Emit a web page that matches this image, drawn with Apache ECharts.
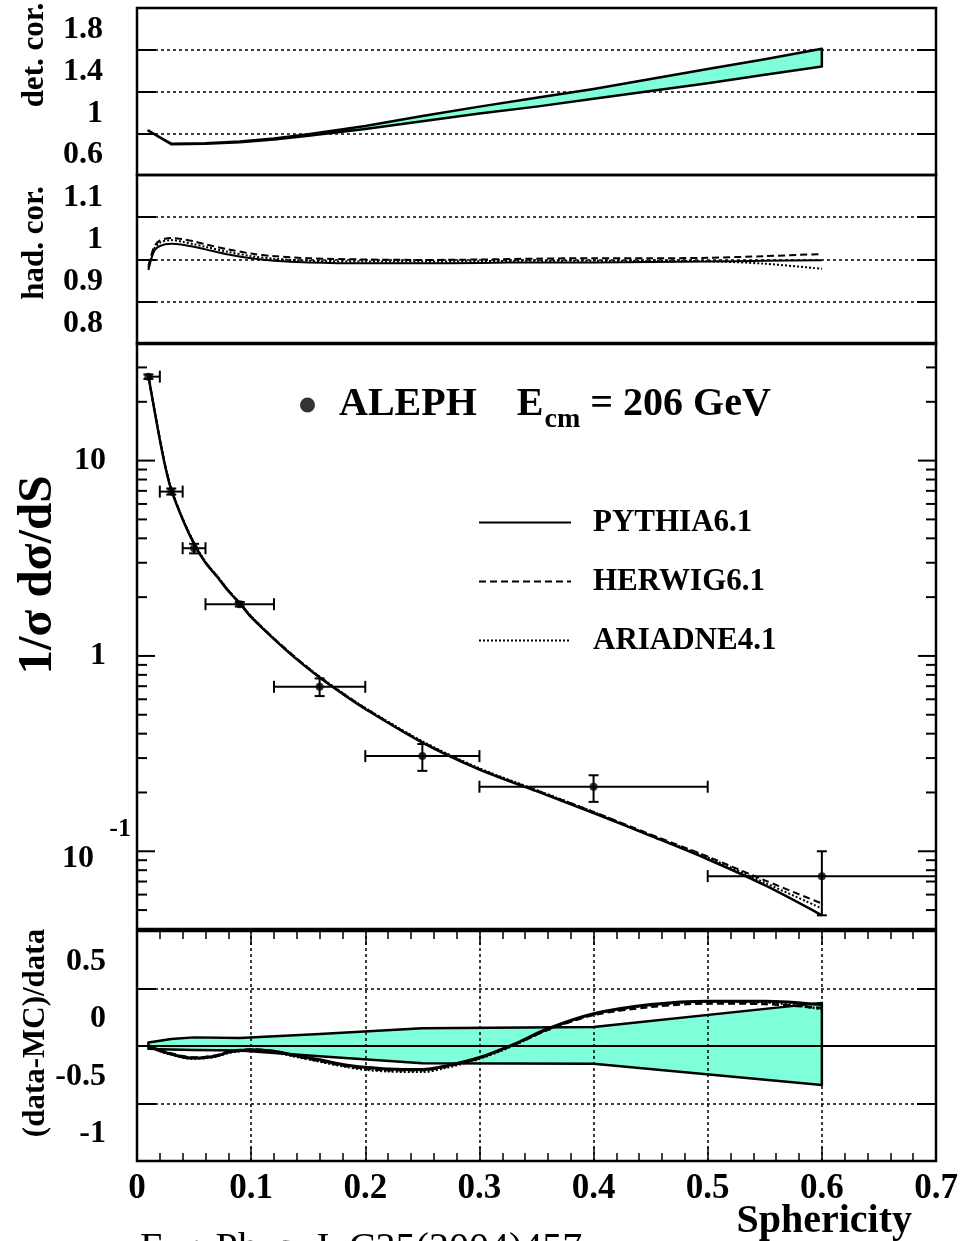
<!DOCTYPE html>
<html><head><meta charset="utf-8">
<script src="https://cdn.jsdelivr.net/npm/echarts@6/dist/echarts.min.js"></script>
<style>html,body{margin:0;padding:0;background:#fff}#c{width:974px;height:1241px}</style>
</head><body><div id="c"></div>
<script>
// ---------------- DATA ----------------
// Panel 1: detector correction band
const detX     = [0.01, 0.02, 0.03, 0.06, 0.09, 0.12, 0.15, 0.20, 0.25, 0.30, 0.35, 0.40, 0.45, 0.50, 0.55, 0.60];
const detUpper = [1.025, 0.96, 0.90, 0.905, 0.92, 0.95, 0.99, 1.07, 1.165, 1.255, 1.34, 1.425, 1.52, 1.615, 1.71, 1.81];
const detLower = [1.025, 0.96, 0.895, 0.90, 0.913, 0.94, 0.975, 1.04, 1.115, 1.19, 1.255, 1.33, 1.405, 1.48, 1.56, 1.64];
const detTicks  = [0.6, 1.0, 1.4, 1.8, 2.2];
const detLabels = [0.6, 1.0, 1.4, 1.8];

// Panel 2: hadronisation corrections
const hadX       = [0.01, 0.015, 0.02, 0.03, 0.04, 0.05, 0.06, 0.08, 0.10, 0.12, 0.15, 0.20, 0.25, 0.30, 0.35, 0.40, 0.45, 0.50, 0.55, 0.60];
const hadPythia  = [0.975, 1.02, 1.032, 1.037, 1.035, 1.03, 1.024, 1.012, 1.003, 0.997, 0.993, 0.991, 0.991, 0.992, 0.993, 0.993, 0.994, 0.995, 0.997, 0.998];
const hadHerwig  = [0.985, 1.03, 1.045, 1.051, 1.048, 1.043, 1.036, 1.024, 1.014, 1.008, 1.003, 1.0, 0.999, 1.0, 1.002, 1.003, 1.003, 1.004, 1.008, 1.013];
const hadAriadne = [0.98, 1.025, 1.04, 1.046, 1.042, 1.036, 1.03, 1.018, 1.008, 1.002, 0.997, 0.995, 0.995, 0.996, 0.997, 0.997, 0.997, 0.996, 0.99, 0.978];

// Panel 3: ALEPH data, 206 GeV
const dataX   = [0.01, 0.03, 0.05, 0.09, 0.16, 0.25, 0.40, 0.60];
const dataY   = [26.9, 6.94, 3.56, 1.84, 0.695, 0.307, 0.214, 0.0746];
const dataYLo = [26.2, 6.7, 3.35, 1.79, 0.623, 0.258, 0.179, 0.047];
const dataYHi = [27.6, 7.2, 3.75, 1.89, 0.767, 0.354, 0.245, 0.100];
const dataXLo = [0.01, 0.02, 0.04, 0.06, 0.12, 0.20, 0.30, 0.50];
const dataXHi = [0.02, 0.04, 0.06, 0.12, 0.20, 0.30, 0.50, 0.70];

// Panel 3: MC predictions
const mcX       = [0.01, 0.015, 0.02, 0.025, 0.03, 0.04, 0.05, 0.06, 0.07, 0.08, 0.09, 0.10, 0.12, 0.14, 0.16, 0.18, 0.20, 0.25, 0.30, 0.35, 0.40, 0.45, 0.50, 0.55, 0.60];
const mcPythia  = [27, 18.5, 12.8, 9.2, 7.1, 5.0, 3.75, 3.0, 2.55, 2.15, 1.86, 1.58, 1.22, 0.96, 0.775, 0.64, 0.535, 0.36, 0.262, 0.203, 0.157, 0.12, 0.091, 0.067, 0.047];
const mcHerwig  = [27, 18.6, 12.9, 9.3, 7.15, 5.05, 3.78, 3.02, 2.57, 2.17, 1.87, 1.59, 1.23, 0.97, 0.78, 0.645, 0.54, 0.363, 0.264, 0.205, 0.159, 0.122, 0.094, 0.071, 0.054];
const mcAriadne = [27, 18.6, 12.9, 9.3, 7.15, 5.05, 3.8, 3.03, 2.58, 2.17, 1.87, 1.6, 1.23, 0.97, 0.785, 0.648, 0.542, 0.366, 0.266, 0.206, 0.159, 0.121, 0.093, 0.069, 0.051];
const logMajorTicks = [0.1, 1, 10];
const logMinorTicks = [0.05, 0.06, 0.07, 0.08, 0.09, 0.2, 0.3, 0.4, 0.5, 0.6, 0.7, 0.8, 0.9, 2, 3, 4, 5, 6, 7, 8, 9, 20, 30];

// Panel 4: (data-MC)/data
const ratX       = [0.01, 0.02, 0.03, 0.04, 0.05, 0.06, 0.07, 0.08, 0.09, 0.10, 0.12, 0.14, 0.16, 0.18, 0.20, 0.22, 0.25, 0.27, 0.30, 0.33, 0.36, 0.40, 0.45, 0.50, 0.55, 0.60];
const ratPythia  = [0.0, -0.04, -0.07, -0.095, -0.105, -0.1, -0.085, -0.055, -0.04, -0.032, -0.045, -0.085, -0.12, -0.16, -0.185, -0.2, -0.205, -0.175, -0.1, 0.015, 0.15, 0.28, 0.36, 0.39, 0.39, 0.36];
const ratHerwig  = [0.0, -0.035, -0.065, -0.09, -0.1, -0.095, -0.08, -0.05, -0.035, -0.03, -0.045, -0.09, -0.13, -0.17, -0.195, -0.21, -0.21, -0.18, -0.105, 0.01, 0.14, 0.27, 0.34, 0.37, 0.365, 0.33];
const ratAriadne = [0.0, -0.045, -0.075, -0.1, -0.11, -0.105, -0.09, -0.06, -0.045, -0.04, -0.055, -0.095, -0.135, -0.175, -0.205, -0.22, -0.225, -0.19, -0.11, 0.005, 0.145, 0.275, 0.355, 0.385, 0.38, 0.32];
const bandX     = [0.01, 0.03, 0.05, 0.09, 0.16, 0.25, 0.40, 0.60];
const bandUpper = [0.03, 0.06, 0.075, 0.07, 0.105, 0.155, 0.165, 0.375];
const bandLower = [-0.025, -0.03, -0.035, -0.04, -0.09, -0.15, -0.155, -0.34];
const ratGridX = [0.1, 0.2, 0.3, 0.4, 0.5, 0.6];
const ratGridY = [0.5, 0, -0.5];

// ---------------- STYLE ----------------
const F = '"Liberation Serif","Times New Roman",serif';
const CYAN = '#7fffd9';
const BLACK = '#000';
const DOT = [3, 3];
const DASH = [7, 4];
const FINE = [2, 2];

const chart = echarts.init(document.getElementById('c'), null, {renderer: 'canvas'});

const pairs = (xs, ys) => xs.map((x, i) => [x, ys[i]]);
const fmtNum = v => String(Math.round(v * 100) / 100);

function bandRenderer(xs, up, lo) {
  return function (params, api) {
    const pts = [];
    for (let i = 0; i < xs.length; i++) pts.push(api.coord([xs[i], up[i]]));
    for (let i = xs.length - 1; i >= 0; i--) pts.push(api.coord([xs[i], lo[i]]));
    return {type: 'polygon', shape: {points: pts},
      style: {fill: CYAN, stroke: BLACK, lineWidth: 2.5, lineJoin: 'round'}};
  };
}
function seg(x1, y1, x2, y2, w) {
  return {type: 'line', shape: {x1, y1, x2, y2}, style: {stroke: BLACK, lineWidth: w || 2}};
}

const yLabel = (margin, padB, extra) => Object.assign({
  fontFamily: F, fontWeight: 'bold', fontSize: 32, color: BLACK,
  margin: margin, verticalAlign: 'bottom', padding: [0, 0, padB, 0]
}, extra || {});
const yTick = {show: true, inside: true, length: 19, lineStyle: {color: BLACK, width: 2}};
const noLine = {show: false, onZero: false};
const dotted = {show: true, lineStyle: {color: BLACK, type: DOT, width: 1.5}};
const hiddenX = gi => ({type: 'value', gridIndex: gi, min: 0, max: 0.7, show: false, axisLine: noLine});
const xTick = {show: true, inside: true, length: 14, lineStyle: {color: BLACK, width: 1.5}};
const xMinor = {show: true, splitNumber: 5, length: 8, lineStyle: {color: BLACK, width: 1.5}};

const lineSeries = (name, xi, yi, xs, ys, type, width, z) => ({
  name, type: 'line', xAxisIndex: xi, yAxisIndex: yi, data: pairs(xs, ys),
  symbol: 'none', smooth: 0.3, z: z || 3, silent: true,
  itemStyle: {color: BLACK},
  lineStyle: {color: BLACK, width: width, type: type}
});

const option = {
  animation: false,
  backgroundColor: '#fff',
  grid: [
    {left: 137, top: 8, width: 799, height: 167, show: true, borderColor: BLACK, borderWidth: 2.5, backgroundColor: 'transparent'},
    {left: 137, top: 175, width: 799, height: 169, show: true, borderColor: BLACK, borderWidth: 2.5, backgroundColor: 'transparent'},
    {left: 137, top: 343, width: 799, height: 586, show: true, borderColor: BLACK, borderWidth: 2.5, backgroundColor: 'transparent'},
    {left: 137, top: 931, width: 799, height: 230, show: true, borderColor: BLACK, borderWidth: 2.5, backgroundColor: 'transparent'}
  ],
  xAxis: [
    hiddenX(0), hiddenX(1), hiddenX(2),
    {type: 'value', gridIndex: 3, position: 'bottom', min: 0, max: 0.7, interval: 0.1,
      axisLine: noLine, axisTick: xTick, minorTick: xMinor, splitLine: {show: false},
      axisLabel: {fontFamily: F, fontWeight: 'bold', fontSize: 35, color: BLACK, margin: 10,
        formatter: v => v === 0 ? '0' : v.toFixed(1)}},
    {type: 'value', gridIndex: 3, position: 'top', min: 0, max: 0.7, interval: 0.1,
      axisLine: noLine, axisTick: xTick, minorTick: xMinor, splitLine: {show: false},
      axisLabel: {show: false}}
  ],
  yAxis: [
    {type: 'value', gridIndex: 0, position: 'left', min: 0.6, max: 2.2, axisLine: noLine,
      axisTick: Object.assign({customValues: detTicks}, yTick),
      axisLabel: yLabel(34, 4, {customValues: detLabels, formatter: fmtNum}),
      splitLine: dotted},
    {type: 'value', gridIndex: 0, position: 'right', min: 0.6, max: 2.2, axisLine: noLine,
      axisTick: Object.assign({customValues: detTicks}, yTick), axisLabel: {show: false}, splitLine: {show: false}},
    {type: 'value', gridIndex: 1, position: 'left', min: 0.8, max: 1.2, interval: 0.1, axisLine: noLine,
      axisTick: yTick, axisLabel: yLabel(34, 4, {formatter: v => v > 1.15 ? '' : fmtNum(v)}),
      splitLine: dotted},
    {type: 'value', gridIndex: 1, position: 'right', min: 0.8, max: 1.2, interval: 0.1, axisLine: noLine,
      axisTick: yTick, axisLabel: {show: false}, splitLine: {show: false}},
    {type: 'log', logBase: 10, gridIndex: 2, position: 'left', min: 0.04, max: 40, axisLine: noLine,
      axisTick: {show: false}, splitLine: {show: false},
      axisLabel: {margin: 6, color: BLACK,
        formatter: v => {
          const l = Math.log10(v), e = Math.round(l);
          if (Math.abs(l - e) > 1e-6) return '';
          if (e === 1) return '{b|10}{sp| }';
          if (e === 0) return '{b|1}{sp| }';
          if (e === -1) return '{s|-1}\n{bb|10}{sp2| }';
          return '';
        },
        rich: {
          b: {fontFamily: F, fontWeight: 'bold', fontSize: 32, color: BLACK, lineHeight: 32},
          sp: {width: 25, fontSize: 10},
          s: {fontFamily: F, fontWeight: 'bold', fontSize: 26, color: BLACK, lineHeight: 26},
          bb: {fontFamily: F, fontWeight: 'bold', fontSize: 32, color: BLACK, padding: [0, 0, 12, 0]},
          sp2: {width: 37, fontSize: 10}
        }}},
    {type: 'value', gridIndex: 3, position: 'left', min: -1, max: 1, interval: 0.5, axisLine: noLine,
      axisTick: yTick, axisLabel: yLabel(31, 11, {formatter: v => v > 0.9 ? '' : fmtNum(v)}),
      splitLine: {show: false}},
    {type: 'value', gridIndex: 3, position: 'right', min: -1, max: 1, interval: 0.5, axisLine: noLine,
      axisTick: yTick, axisLabel: {show: false}, splitLine: {show: false}}
  ],
  legend: [
    {data: ['ALEPH'], left: 300, top: 385, padding: 0, icon: 'circle', itemWidth: 15, itemHeight: 15, selectedMode: false,
      formatter: () => '{a|ALEPH    E}{sub|cm}{a| = 206 GeV}',
      textStyle: {padding: [0, 0, 0, 19],
        rich: {
          a: {fontFamily: F, fontWeight: 'bold', fontSize: 40, color: BLACK, lineHeight: 58, verticalAlign: 'middle'},
          sub: {fontFamily: F, fontWeight: 'bold', fontSize: 28, color: BLACK, padding: [30, 0, 0, 1], verticalAlign: 'top'}
        }}},
    {data: ['PYTHIA6.1', 'HERWIG6.1', 'ARIADNE4.1'], orient: 'vertical', left: 478, top: 507, padding: 0,
      itemWidth: 92, itemHeight: 14, itemGap: 28, selectedMode: false,
      itemStyle: {color: 'transparent', borderColor: 'transparent', borderWidth: 0, opacity: 0},
      textStyle: {fontFamily: F, fontWeight: 'bold', fontSize: 31, color: BLACK, lineHeight: 31, padding: [0, 0, 0, 17]}}
  ],
  graphic: [
    {type: 'text', x: 35, y: 55, rotation: Math.PI / 2, style: {text: 'det. cor.', font: 'bold 31px ' + F, align: 'center', verticalAlign: 'middle', fill: BLACK}},
    {type: 'text', x: 35, y: 243, rotation: Math.PI / 2, style: {text: 'had. cor.', font: 'bold 31px ' + F, align: 'center', verticalAlign: 'middle', fill: BLACK}},
    {type: 'text', x: 38, y: 575, rotation: Math.PI / 2, style: {text: '1/σ dσ/dS', font: 'bold 49px ' + F, align: 'center', verticalAlign: 'middle', fill: BLACK}},
    {type: 'text', x: 36, y: 1033, rotation: Math.PI / 2, style: {text: '(data-MC)/data', font: 'bold 31px ' + F, align: 'center', verticalAlign: 'middle', fill: BLACK}},
    {type: 'text', x: 912, y: 1202, style: {text: 'Sphericity', font: 'bold 40px ' + F, align: 'right', verticalAlign: 'top', fill: BLACK}},
    {type: 'text', x: 140, y: 1229, style: {text: 'Eur. Phys. J. C35(2004)457', font: '40px ' + F, align: 'left', verticalAlign: 'top', fill: BLACK}}
  ],
  series: [
    // main panel MC curves (first, so legend takes their style)
    lineSeries('PYTHIA6.1', 2, 4, mcX, mcPythia, 'solid', 2.5, 3),
    lineSeries('HERWIG6.1', 2, 4, mcX, mcHerwig, DASH, 2, 3),
    lineSeries('ARIADNE4.1', 2, 4, mcX, mcAriadne, FINE, 2, 3),
    // data points
    {name: 'ALEPH', type: 'scatter', xAxisIndex: 2, yAxisIndex: 4, data: pairs(dataX, dataY),
      symbol: 'circle', symbolSize: 8, itemStyle: {color: BLACK}, z: 6, silent: true},
    {name: 'ALEPH errors', type: 'custom', xAxisIndex: 2, yAxisIndex: 4, z: 5, silent: true,
      data: dataX.map((x, i) => [x, dataY[i], dataXLo[i], dataXHi[i], dataYLo[i], dataYHi[i]]),
      encode: {x: 0, y: 1},
      renderItem: (params, api) => {
        const x = api.value(0), y = api.value(1);
        const c = api.coord([x, y]);
        const pl = api.coord([api.value(2), y]), ph = api.coord([api.value(3), y]);
        const qlo = api.coord([x, api.value(4)]), qhi = api.coord([x, api.value(5)]);
        const ch = [seg(pl[0], c[1], ph[0], c[1])];
        if (ph[0] - c[0] > 1) ch.push(seg(ph[0], c[1] - 6, ph[0], c[1] + 6));
        if (c[0] - pl[0] > 1) ch.push(seg(pl[0], c[1] - 6, pl[0], c[1] + 6));
        ch.push(seg(c[0], qhi[1], c[0], qlo[1]));
        ch.push(seg(c[0] - 5, qhi[1], c[0] + 5, qhi[1]));
        ch.push(seg(c[0] - 5, qlo[1], c[0] + 5, qlo[1]));
        return {type: 'group', children: ch};
      }},
    // log-axis ticks (decades and 2..9 subdivisions) on both sides
    {name: 'log ticks', type: 'custom', xAxisIndex: 2, yAxisIndex: 4, z: 4, silent: true,
      data: logMajorTicks.map(v => [0, v, 1]).concat(logMinorTicks.map(v => [0, v, 0])),
      encode: {x: 0, y: 1},
      renderItem: (params, api) => {
        const cs = params.coordSys;
        const y = api.coord([0, api.value(1)])[1];
        const len = api.value(2) ? 18 : 10;
        return {type: 'group', children: [
          seg(cs.x, y, cs.x + len, y, 2),
          seg(cs.x + cs.width - len, y, cs.x + cs.width, y, 2)
        ]};
      }},
    // detector correction band
    {name: 'det. cor.', type: 'custom', xAxisIndex: 0, yAxisIndex: 0, z: 3, silent: true,
      data: [[detX[0], detUpper[0]]], renderItem: bandRenderer(detX, detUpper, detLower)},
    // hadronisation corrections
    lineSeries('PYTHIA6.1 had', 1, 2, hadX, hadPythia, 'solid', 2, 3),
    lineSeries('HERWIG6.1 had', 1, 2, hadX, hadHerwig, DASH, 2, 3),
    lineSeries('ARIADNE4.1 had', 1, 2, hadX, hadAriadne, FINE, 2, 3),
    // ratio panel: solid zero line under band
    {name: 'zero', type: 'line', xAxisIndex: 3, yAxisIndex: 5, data: [], z: 1, silent: true,
      markLine: {silent: true, symbol: 'none', label: {show: false}, animation: false,
        lineStyle: {color: BLACK, type: 'solid', width: 2}, data: [{yAxis: 0}]}},
    {name: 'uncertainty', type: 'custom', xAxisIndex: 3, yAxisIndex: 5, z: 2, silent: true,
      data: [[bandX[0], bandUpper[0]]], renderItem: bandRenderer(bandX, bandUpper, bandLower)},
    {name: 'grid', type: 'line', xAxisIndex: 3, yAxisIndex: 5, data: [], z: 3, silent: true,
      markLine: {silent: true, symbol: 'none', label: {show: false}, animation: false,
        lineStyle: {color: BLACK, type: DOT, width: 1.5},
        data: ratGridX.map(v => ({xAxis: v})).concat(ratGridY.map(v => ({yAxis: v})))}},
    lineSeries('PYTHIA6.1 ratio', 3, 5, ratX, ratPythia, 'solid', 3, 4),
    lineSeries('HERWIG6.1 ratio', 3, 5, ratX, ratHerwig, DASH, 2.5, 4),
    lineSeries('ARIADNE4.1 ratio', 3, 5, ratX, ratAriadne, FINE, 2.5, 4)
  ]
};
chart.setOption(option);
</script></body></html>
